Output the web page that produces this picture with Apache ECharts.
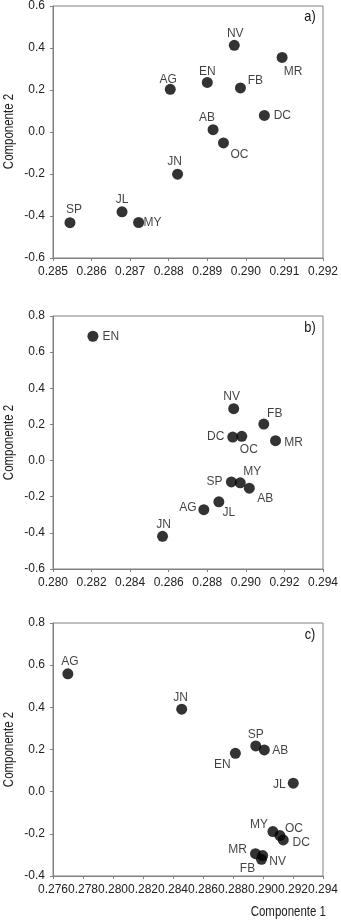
<!DOCTYPE html>
<html>
<head>
<meta charset="utf-8">
<script src="https://cdn.jsdelivr.net/npm/echarts@6/dist/echarts.min.js"></script>
<style>
  html, body { margin: 0; padding: 0; background: #fff; }
  #chart { width: 341px; height: 922px; }
</style>
</head>
<body>
<div id="chart"></div>
<script>
// Panel a)
const namesA = ['NV', 'MR', 'EN', 'AG', 'FB', 'DC', 'AB', 'OC', 'JN', 'JL', 'MY', 'SP'];
const xA = [0.2897, 0.29094, 0.2890, 0.28804, 0.28986, 0.29048, 0.28915, 0.28942, 0.28823, 0.28679, 0.28722, 0.28544];
const yA = [0.413, 0.355, 0.236, 0.203, 0.210, 0.079, 0.011, -0.052, -0.201, -0.380, -0.431, -0.432];

// Panel b)
const namesB = ['EN', 'NV', 'FB', 'DC', 'OC', 'MR', 'MY', 'SP', 'AB', 'JL', 'AG', 'JN'];
const xB = [0.28207, 0.28937, 0.29093, 0.28932, 0.28979, 0.29154, 0.28971, 0.28925, 0.29018, 0.2886, 0.28782, 0.28568];
const yB = [0.688, 0.287, 0.202, 0.130, 0.134, 0.110, -0.123, -0.118, -0.153, -0.228, -0.272, -0.419];

// Panel c)
const namesC = ['AG', 'JN', 'SP', 'AB', 'EN', 'JL', 'MY', 'OC', 'DC', 'MR', 'NV', 'FB'];
const xC = [0.27699, 0.28458, 0.28952, 0.29009, 0.28816, 0.29202, 0.29066, 0.29113, 0.29135, 0.2895, 0.28998, 0.2899];
const yC = [0.559, 0.391, 0.217, 0.198, 0.182, 0.040, -0.189, -0.208, -0.229, -0.294, -0.303, -0.321];

// axis ranges and ticks
const xRanges = [[0.285, 0.292, 0.001], [0.280, 0.294, 0.002], [0.276, 0.294, 0.002]];
const yRanges = [[-0.6, 0.6, 0.2], [-0.6, 0.8, 0.2], [-0.4, 0.8, 0.2]];
const panelTags = ['a)', 'b)', 'c)'];

// label offsets from dot centre (style only)
const labelOffsets = [
  [[1, -12], [11, 14], [0, -11], [-2, -10], [15, -7], [18, 0], [-6, -12], [16, 12], [-3, -13], [0, -12], [14, 0], [4, -13]],
  [[18, 0], [-2, -12], [11, -10], [-17, 0], [7, 13], [18, 2], [12, -11], [-17, 0], [16, 10], [10, 11], [-16, -2], [1, -12]],
  [[2, -12], [-1, -12], [0, -11], [16, 1], [-13, 11], [-14, 1], [-14, -7], [14, -7], [18, 3], [-18, -4], [15, 6], [-14, 9]]
];

const panels = [[namesA, xA, yA], [namesB, xB, yB], [namesC, xC, yC]];
const gridTops = [5, 316, 623];
const gridH = 253;
const axisColor = '#808080';
const textFont = "'Liberation Sans', Arial, sans-serif";

const chart = echarts.init(document.getElementById('chart'));

const grid = [], xAxis = [], yAxis = [], series = [], graphic = [];

panels.forEach((p, i) => {
  const [names, xs, ys] = p;
  grid.push({
    left: 53, top: gridTops[i], width: 273, height: gridH,
    show: true, borderColor: axisColor, borderWidth: 1, backgroundColor: 'transparent'
  });
  xAxis.push({
    type: 'value', gridIndex: i,
    min: xRanges[i][0], max: xRanges[i][1], interval: xRanges[i][2],
    axisLine: { show: true, onZero: false, lineStyle: { color: axisColor } },
    axisTick: { show: true, length: 3, lineStyle: { color: axisColor } },
    splitLine: { show: false },
    axisLabel: {
      color: '#222', fontFamily: textFont, fontSize: 12, margin: 8,
      formatter: v => v.toFixed(3)
    }
  });
  yAxis.push({
    type: 'value', gridIndex: i,
    min: yRanges[i][0], max: yRanges[i][1], interval: yRanges[i][2],
    axisLine: { show: true, onZero: false, lineStyle: { color: axisColor } },
    axisTick: { show: true, length: 3, lineStyle: { color: axisColor } },
    splitLine: { show: false },
    axisLabel: {
      color: '#222', fontFamily: textFont, fontSize: 12, margin: 8,
      formatter: v => v.toFixed(1)
    }
  });
  series.push({
    type: 'scatter', xAxisIndex: i, yAxisIndex: i,
    symbolSize: 11,
    itemStyle: { color: '#000' },
    data: names.map((n, k) => ({
      name: n, value: [xs[k], ys[k]],
      label: { offset: labelOffsets[i][k] }
    })),
    label: {
      show: true, position: 'inside', formatter: '{b}',
      color: '#111', fontFamily: textFont, fontSize: 12,
      align: 'center', verticalAlign: 'middle'
    }
  });
  // panel tag
  graphic.push({
    type: 'text', x: 310, y: gridTops[i] + 12, scaleX: 0.85,
    style: { text: panelTags[i], font: '15px ' + textFont, fill: '#111',
             align: 'center', verticalAlign: 'middle' }
  });
  // y axis name, condensed
  graphic.push({
    type: 'text', x: 9, y: gridTops[i] + gridH / 2, rotation: Math.PI / 2, scaleX: 0.82,
    style: { text: 'Componente 2', font: '14px ' + textFont, fill: '#222',
             align: 'center', verticalAlign: 'middle' }
  });
});

graphic.push({
  type: 'text', x: 326, y: 912, scaleX: 0.82,
  style: { text: 'Componente 1', font: '14px ' + textFont, fill: '#222',
           align: 'right', verticalAlign: 'middle' }
});

chart.setOption({
  animation: false,
  grid: grid,
  xAxis: xAxis,
  yAxis: yAxis,
  series: series,
  graphic: graphic
});
</script>
</body>
</html>
